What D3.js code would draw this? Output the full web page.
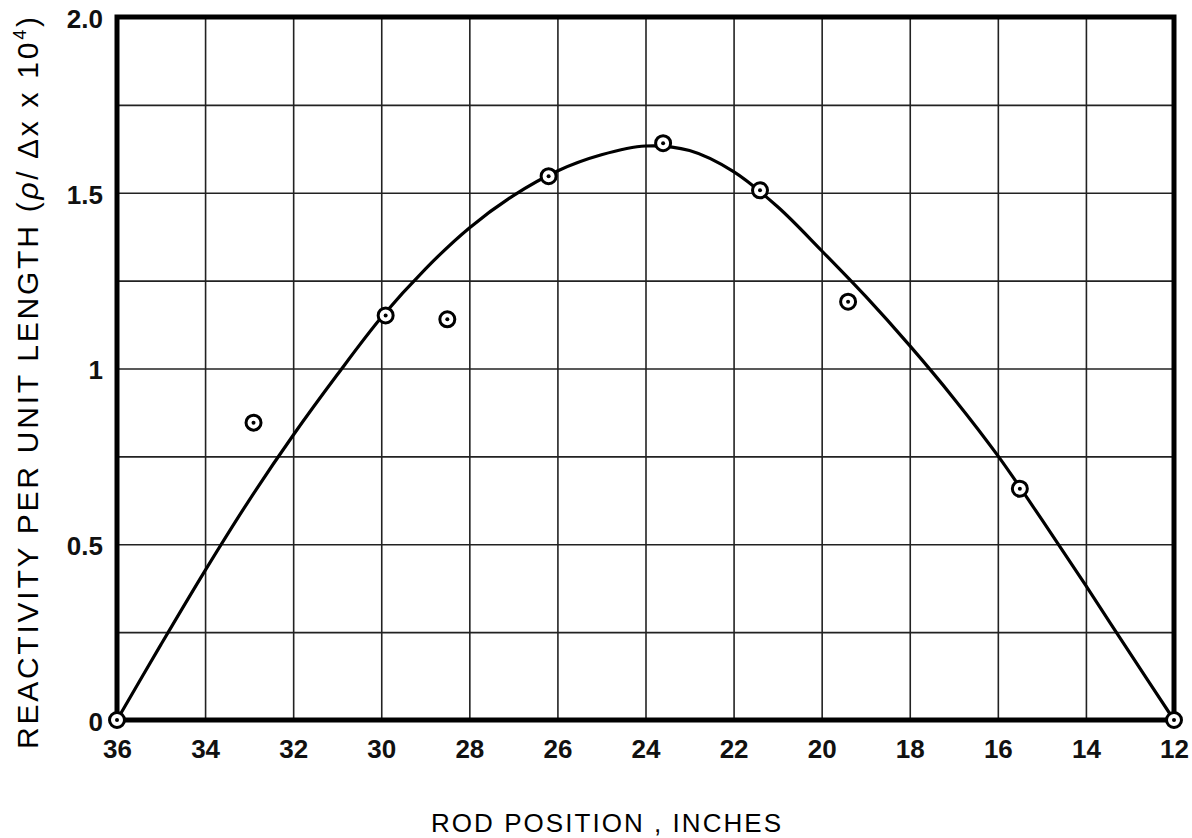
<!DOCTYPE html>
<html>
<head>
<meta charset="utf-8">
<script src="https://cdn.jsdelivr.net/npm/d3@7"></script>
<style>
  body { margin: 0; background: #fff; }
  svg { font-family: "Liberation Sans", Arial, Helvetica, sans-serif; }
  .tick text { fill: #111; }
</style>
</head>
<body>
<div id="chart"></div>
<script>
// rod position ticks (inches), axis runs 36 -> 12
const xTicks = [36, 34, 32, 30, 28, 26, 24, 22, 20, 18, 16, 14, 12];
const yGrid = [0, 0.25, 0.5, 0.75, 1, 1.25, 1.5, 1.75, 2];
const yTicks = [0, 0.5, 1, 1.5, 2];
const yTickLabels = ["0", "0.5", "1", "1.5", "2.0"];

// measured points
const pointX = [36, 32.9, 29.9, 28.5, 26.2, 23.6, 21.4, 19.4, 15.5, 12];
const pointY = [0, 0.846, 1.151, 1.14, 1.547, 1.641, 1.507, 1.19, 0.658, 0];

// faired curve
const curveX = [36, 35, 34, 33, 32, 31, 30, 29, 28, 27, 26, 25, 24, 23, 22, 21, 20, 19, 18, 17, 16, 15, 14, 13, 12];
const curveY = [0, 0.215, 0.425, 0.625, 0.81, 0.982, 1.145, 1.283, 1.40, 1.492, 1.562, 1.608, 1.633, 1.62, 1.56, 1.46, 1.335, 1.205, 1.065, 0.915, 0.752, 0.57, 0.382, 0.19, 0];

const xTitle = "ROD POSITION , INCHES";

(function () {
  'use strict';

  const width = 1192, height = 838;
  const margin = { top: 17, right: 18, bottom: 118, left: 117 };
  const w = width - margin.left - margin.right;
  const h = height - margin.top - margin.bottom;

  const svg = d3.select("#chart").append("svg")
      .attr("width", width)
      .attr("height", height);

  const g = svg.append("g")
      .attr("transform", `translate(${margin.left},${margin.top})`);

  const x = d3.scaleLinear().domain([36, 12]).range([0, w]);
  const y = d3.scaleLinear().domain([0, 2]).range([h, 0]);

  // grid
  g.append("g")
      .attr("class", "grid-x")
      .attr("transform", `translate(0,${h})`)
      .call(d3.axisBottom(x).tickValues(xTicks).tickSize(-h).tickFormat(""))
      .call(s => s.select(".domain").remove())
      .selectAll("line")
      .attr("stroke", "#222")
      .attr("stroke-width", 1.6);

  g.append("g")
      .attr("class", "grid-y")
      .call(d3.axisLeft(y).tickValues(yGrid).tickSize(-w).tickFormat(""))
      .call(s => s.select(".domain").remove())
      .selectAll("line")
      .attr("stroke", "#222")
      .attr("stroke-width", 1.6);

  // tick labels
  g.append("g")
      .attr("transform", `translate(0,${h})`)
      .call(d3.axisBottom(x).tickValues(xTicks).tickSize(0).tickPadding(20))
      .call(s => s.select(".domain").remove())
      .selectAll("text")
      .attr("font-size", 26)
      .attr("font-weight", "bold")
      .attr("dy", "0.71em");

  g.append("g")
      .call(d3.axisLeft(y).tickValues(yTicks).tickSize(0).tickPadding(14)
          .tickFormat((d, i) => yTickLabels[i]))
      .call(s => s.select(".domain").remove())
      .selectAll("text")
      .attr("font-size", 26)
      .attr("font-weight", "bold")
      .attr("dy", "0.4em");

  // frame
  g.append("rect")
      .attr("width", w)
      .attr("height", h)
      .attr("fill", "none")
      .attr("stroke", "#000")
      .attr("stroke-width", 5);

  // curve
  const line = d3.line()
      .x((d, i) => x(curveX[i]))
      .y(d => y(d))
      .curve(d3.curveCatmullRom.alpha(0.5));

  g.append("path")
      .datum(curveY)
      .attr("d", line)
      .attr("fill", "none")
      .attr("stroke", "#000")
      .attr("stroke-width", 3.2);

  // points: circle with centre dot
  const pts = g.append("g").selectAll("g")
      .data(pointY)
      .join("g")
      .attr("transform", (d, i) => `translate(${x(pointX[i])},${y(d)})`);
  pts.append("circle")
      .attr("r", 7.5)
      .attr("fill", "#fff")
      .attr("stroke", "#000")
      .attr("stroke-width", 3);
  pts.append("circle")
      .attr("r", 2)
      .attr("fill", "#000");

  // axis titles
  svg.append("text")
      .attr("x", 606)
      .attr("y", 832)
      .attr("text-anchor", "middle")
      .attr("font-size", 26)
      .attr("textLength", 350)
      .attr("lengthAdjust", "spacing")
      .text(xTitle);

  const yt = svg.append("text")
      .attr("transform", "translate(38,383) rotate(-90)")
      .attr("text-anchor", "middle")
      .attr("font-size", 30)
      .attr("textLength", 732)
      .attr("lengthAdjust", "spacing");
  yt.append("tspan").text("REACTIVITY PER UNIT LENGTH (");
  yt.append("tspan").attr("font-style", "italic").text("ρ");
  yt.append("tspan").text("/ Δx x 10");
  yt.append("tspan").attr("font-size", 18).attr("dy", -12).text("4");
  yt.append("tspan").attr("dy", 12).text(")");
}());
</script>
</body>
</html>
